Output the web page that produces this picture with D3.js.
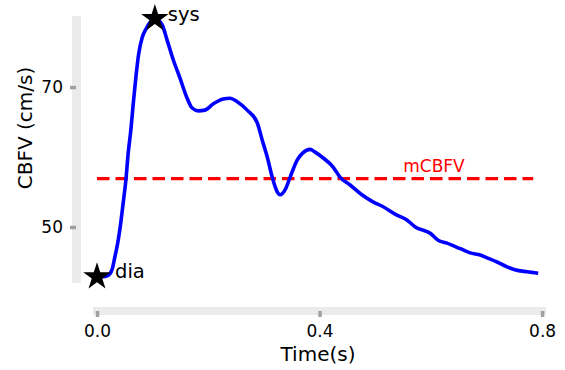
<!DOCTYPE html>
<html>
<head>
<meta charset="utf-8">
<script src="https://cdn.jsdelivr.net/npm/d3@7"></script>
<style>
  html, body { margin: 0; padding: 0; background: #fff; }
  svg text { font-family: "DejaVu Sans", sans-serif; }
</style>
</head>
<body>
<svg id="chart" width="565" height="370"></svg>
<script>
// One cardiac cycle of cerebral blood flow velocity
const times = [0.000, 0.010, 0.020, 0.027, 0.032, 0.037, 0.041, 0.047, 0.052, 0.056,
  0.061, 0.065, 0.070, 0.075, 0.081, 0.088, 0.095, 0.104, 0.117, 0.126,
  0.137, 0.149, 0.162, 0.171, 0.182, 0.194, 0.209, 0.227, 0.239, 0.252,
  0.270, 0.288, 0.297, 0.306, 0.315, 0.324, 0.329, 0.338, 0.347, 0.360,
  0.370, 0.383, 0.392, 0.406, 0.424, 0.437, 0.455, 0.476, 0.496, 0.512,
  0.539, 0.557, 0.572, 0.599, 0.613, 0.629, 0.653, 0.671, 0.689, 0.701,
  0.719, 0.737, 0.751, 0.773, 0.793];
const cbfv = [42.9, 42.9, 43.1, 43.9, 45.7, 47.6, 49.6, 53.4, 56.8, 60.5,
  64.0, 67.5, 71.5, 74.8, 77.0, 78.3, 79.2, 79.8, 78.9, 76.7,
  73.9, 71.3, 68.4, 67.0, 66.6, 66.7, 67.6, 68.3, 68.4, 67.9,
  66.7, 64.9, 62.4, 60.0, 57.1, 55.0, 54.6, 55.3, 57.1, 59.6,
  60.6, 61.1, 60.7, 59.9, 58.6, 57.1, 56.0, 54.6, 53.6, 53.0,
  51.7, 51.0, 50.0, 49.1, 48.1, 47.7, 46.9, 46.3, 46.0, 45.6,
  45.0, 44.3, 43.9, 43.6, 43.4];

// Mean velocity and the span it is drawn over
const meanCBFV = 56.9;
const meanSpan = [0.0, 0.784];

// Marked points: diastolic minimum and systolic peak
const markerNames = ["dia", "sys"];
const markerTimes = [0.000, 0.104];
const markerValues = [42.9, 79.8];

const xTicks = [0.0, 0.4, 0.8];
const yTicks = [50, 70];

const svg = d3.select("#chart");

const x = d3.scaleLinear().domain([-0.0072, 0.807]).range([93, 546]);
const y = d3.scaleLinear().domain([42, 80.15]).range([283, 16]);

const spineColor = "#ebebeb";
const tickColor = "#a0a0a0";
const textColor = "#000";

// Offset spines as light bars
svg.append("rect")
  .attr("x", 72).attr("y", y.range()[1])
  .attr("width", 9).attr("height", y.range()[0] - y.range()[1])
  .attr("fill", spineColor);
svg.append("rect")
  .attr("x", x.range()[0]).attr("y", 307)
  .attr("width", x.range()[1] - x.range()[0]).attr("height", 8)
  .attr("fill", spineColor);

// Y axis
const yAxis = svg.append("g")
  .attr("transform", "translate(76,0)")
  .call(d3.axisLeft(y).tickValues(yTicks).tickSize(6).tickPadding(7).tickFormat(d3.format("d")));
yAxis.select(".domain").remove();
yAxis.selectAll(".tick line").attr("stroke", tickColor).attr("stroke-width", 3.5);
yAxis.selectAll(".tick text").attr("fill", textColor).attr("font-size", 17)
  .attr("font-family", "DejaVu Sans, sans-serif");

// X axis
const xAxis = svg.append("g")
  .attr("transform", "translate(0,311)")
  .call(d3.axisBottom(x).tickValues(xTicks).tickSize(6).tickPadding(7.5).tickFormat(d3.format(".1f")));
xAxis.select(".domain").remove();
xAxis.selectAll(".tick line").attr("stroke", tickColor).attr("stroke-width", 3.5);
xAxis.selectAll(".tick text").attr("fill", textColor).attr("font-size", 17)
  .attr("font-family", "DejaVu Sans, sans-serif");

// Axis titles
svg.append("text")
  .attr("x", 318).attr("y", 361)
  .attr("text-anchor", "middle")
  .attr("font-size", 20).attr("fill", textColor)
  .text("Time(s)");
svg.append("text")
  .attr("transform", "translate(32,128) rotate(-90)")
  .attr("text-anchor", "middle")
  .attr("font-size", 20).attr("fill", textColor)
  .text("CBFV (cm/s)");

// Mean line and its label
svg.append("line")
  .attr("x1", x(meanSpan[0])).attr("x2", x(meanSpan[1]))
  .attr("y1", y(meanCBFV)).attr("y2", y(meanCBFV))
  .attr("stroke", "#ff0000").attr("stroke-width", 3.2)
  .attr("stroke-dasharray", "12.5,6");
svg.append("text")
  .attr("x", 434).attr("y", y(meanCBFV) - 6.5)
  .attr("text-anchor", "middle")
  .attr("font-size", 17).attr("fill", "#ff0000")
  .text("mCBFV");

// Velocity trace
const pts = times.map((t, i) => [t, cbfv[i]]);
svg.append("path")
  .datum(pts)
  .attr("fill", "none")
  .attr("stroke", "#0000ff")
  .attr("stroke-width", 3.6)
  .attr("stroke-linejoin", "round")
  .attr("d", d3.line().x(d => x(d[0])).y(d => y(d[1])).curve(d3.curveMonotoneX));

// Star markers with labels
const star = d3.symbol().type(d3.symbolStar).size(235);
const markers = svg.append("g").selectAll("g")
  .data(markerNames.map((n, i) => ({ name: n, t: markerTimes[i], v: markerValues[i] })))
  .join("g")
  .attr("transform", d => `translate(${x(d.t)},${y(d.v)})`);
markers.append("path").attr("d", star).attr("fill", "#000");
markers.append("text")
  .attr("x", d => d.name === "dia" ? 18 : 13)
  .attr("y", d => d.name === "dia" ? 1 : 3)
  .attr("font-size", 19.5).attr("fill", textColor)
  .text(d => d.name);
</script>
</body>
</html>
